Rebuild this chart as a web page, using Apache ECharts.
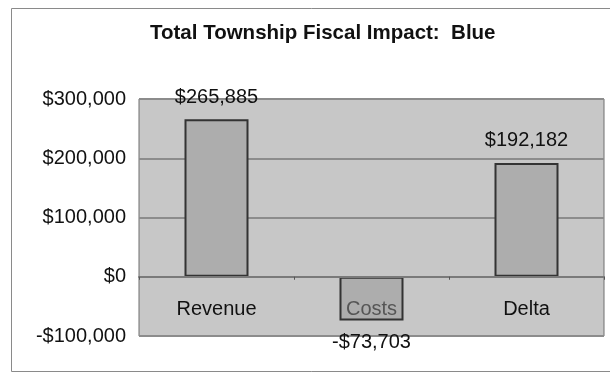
<!DOCTYPE html>
<html>
<head>
<meta charset="utf-8">
<script src="https://cdn.jsdelivr.net/npm/echarts@6/dist/echarts.min.js"></script>
<style>
  html, body { margin: 0; padding: 0; background: #ffffff; }
  #chart { width: 610px; height: 373px; }
</style>
</head>
<body>
<div id="chart"></div>
<script>
// Township fiscal impact figures
const categories = ['Revenue', 'Costs', 'Delta'];
const impactValues = [265885, -73703, 192182];
const yTicks = { min: -100000, max: 300000, step: 100000 };

const fontFamily = '"Liberation Sans", Arial, sans-serif';

function money(v) {
  const sign = v < 0 ? '-' : '';
  return sign + '$' + Math.abs(v).toLocaleString('en-US');
}

// Positive bars carry their label above, negative ones below
const barData = impactValues.map((v) => ({
  value: v,
  label: { position: v < 0 ? 'bottom' : 'top' }
}));

const chart = echarts.init(document.getElementById('chart'), null, { renderer: 'canvas' });

chart.setOption({
  backgroundColor: '#ffffff',
  animation: false,
  title: {
    text: 'Total Township Fiscal Impact:  Blue',
    left: 145,
    top: 18,
    textStyle: { fontFamily, fontSize: 20.5, fontWeight: 'bold', color: '#111111' }
  },
  graphic: [{
    type: 'rect',
    silent: true,
    z: -10,
    shape: { x: 11.5, y: 8.5, width: 700, height: 363 },
    style: { fill: 'none', stroke: '#8a8a8a', lineWidth: 1 }
  }],
  grid: {
    left: 139, right: 6, top: 99, bottom: 37,
    show: true,
    backgroundColor: '#c7c7c7',
    borderColor: '#6e6e6e',
    borderWidth: 1
  },
  xAxis: {
    type: 'category',
    data: categories,
    z: 5,
    axisLine: { onZero: true, lineStyle: { color: '#7a7a7a', width: 2 } },
    axisTick: { show: true, length: 3, lineStyle: { color: '#555555' } },
    axisLabel: {
      margin: -37,
      fontFamily,
      fontSize: 20,
      color: (value) => value === 'Costs' ? '#555555' : '#111111'
    },
    splitLine: { show: false }
  },
  yAxis: {
    type: 'value',
    min: yTicks.min,
    max: yTicks.max,
    interval: yTicks.step,
    axisLine: { show: false },
    axisTick: { show: false },
    axisLabel: {
      margin: 13,
      fontFamily,
      fontSize: 20,
      color: '#111111',
      formatter: money
    },
    splitLine: { show: true, lineStyle: { color: '#8c8c8c', width: 2 } }
  },
  series: [{
    type: 'bar',
    data: barData,
    barWidth: 64,
    itemStyle: { color: '#adadad', borderColor: '#333333', borderWidth: 2 },
    label: {
      show: true,
      fontFamily,
      fontSize: 20,
      color: '#111111',
      distance: 12,
      formatter: (p) => money(p.value)
    }
  }]
});
</script>
</body>
</html>
